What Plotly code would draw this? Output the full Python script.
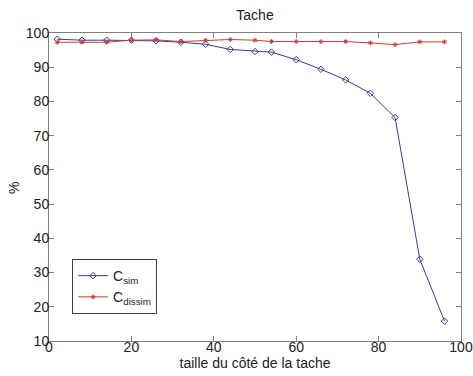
import plotly.graph_objects as go

x_vals = [2, 8, 14, 20, 26, 32, 38, 44, 50, 54, 60, 66, 72, 78, 84, 90, 96]
c_sim = [98.2, 97.9, 97.9, 97.9, 97.7, 97.3, 96.7, 95.2, 94.6, 94.4, 92.2, 89.4, 86.3, 82.4, 75.3, 33.9, 15.8]
c_dissim = [97.3, 97.3, 97.3, 97.9, 98.0, 97.5, 97.9, 98.1, 97.9, 97.5, 97.5, 97.5, 97.5, 97.1, 96.6, 97.4, 97.4]
x_ticks = [0, 20, 40, 60, 80, 100]
y_ticks = [10, 20, 30, 40, 50, 60, 70, 80, 90, 100]

fig = go.Figure()
fig.add_trace(go.Scatter(
    x=x_vals, y=c_sim, mode="lines+markers", name="C<sub>sim</sub>",
    line=dict(color="#3a3aa0", width=1),
    marker=dict(symbol="diamond-open", size=5, color="#3a3aa0", line=dict(width=1)),
))
fig.add_trace(go.Scatter(
    x=x_vals, y=c_dissim, mode="lines+markers", name="C<sub>dissim</sub>",
    line=dict(color="#cc3a3a", width=1),
    marker=dict(symbol="asterisk-open", size=4, color="#cc3a3a", line=dict(width=1, color="#cc3a3a")),
))

axis_common = dict(
    showgrid=False, zeroline=False, showline=True, linecolor="#808080", linewidth=1,
    mirror="ticks", ticks="inside", ticklen=5, tickcolor="#808080",
    tickfont=dict(size=14, color="#222222"), automargin=False,
)
fig.update_xaxes(range=[0, 100], tickvals=x_ticks, ticklabelstandoff=-7,
                 title=dict(text="taille du côté de la tache", font=dict(size=14, color="#222222"), standoff=0),
                 **axis_common)
fig.update_yaxes(range=[10, 100], tickvals=y_ticks, ticklabelstandoff=-4,
                 **axis_common)

fig.add_annotation(text="%", textangle=-90, showarrow=False,
                   xref="paper", yref="paper", x=-0.085, y=0.497,
                   xanchor="center", yanchor="middle",
                   font=dict(size=14, color="#222222"))

fig.update_layout(
    width=473, height=376,
    margin=dict(l=49, r=12, t=33, b=35),
    paper_bgcolor="white", plot_bgcolor="white",
    font=dict(family="Liberation Sans, Arial, sans-serif", size=14, color="#222222"),
    title=dict(text="Tache", x=0.5, xanchor="center", xref="paper",
               y=1 - 15 / 376, yref="container", yanchor="middle",
               font=dict(size=14, color="#222222")),
    showlegend=True,
    legend=dict(x=0.056, y=0.266, xanchor="left", yanchor="top",
                bordercolor="#404040", borderwidth=1, bgcolor="white",
                font=dict(size=14, color="#222222"), tracegroupgap=0,
                itemwidth=30),
)

fig.write_html("out.html", config={"displayModeBar": False},
               post_script="document.body.style.margin='0';")
